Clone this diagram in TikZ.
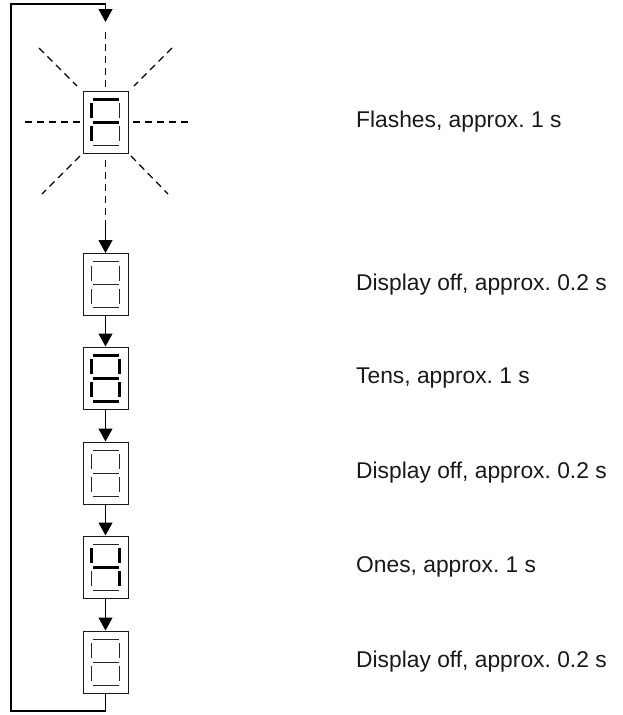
\documentclass[tikz,border=0pt]{standalone}
\usepackage{fontspec}
\setmainfont{Liberation Sans}
\usetikzlibrary{arrows.meta}
\frenchspacing
\tikzset{
  dispbox/.style={draw=black!90, line width=1pt, minimum width=45pt, minimum height=62pt, inner sep=0pt, fill=white},
  lab/.style={anchor=west, inner sep=0pt, font=\fontsize{22.8}{27}\selectfont, text=black!90},
  conn/.style={line width=1.2pt, -{Triangle[length=13pt,width=14pt]}},
  ray/.style={line width=1.2pt, dash pattern=on 7pt off 5pt},
  on/.style={line width=3pt, black},
  off/.style={line width=0.9pt, black!85},
}
\newcommand\sevseg[8]{%
  \begin{scope}[shift={(#1.center)}]
    \draw[#2] (-13,-23) -- (13,-23);
    \draw[#3] (14,-19) -- (14,-4);
    \draw[#4] (14,4) -- (14,19);
    \draw[#5] (-13,23) -- (13,23);
    \draw[#6] (-14,4) -- (-14,19);
    \draw[#7] (-14,-19) -- (-14,-4);
    \draw[#8] (-13,0) -- (13,0);
  \end{scope}}
\begin{document}
\begin{tikzpicture}[x=1pt, y=-1pt]
\useasboundingbox (0,0) rectangle (622,715);
% flash rays
\draw[ray] (25,122) -- (80,122);
\draw[ray] (133,122) -- (188,122);
\draw[ray] (39,48) -- (77,86);
\draw[ray] (172,48) -- (134,86);
\draw[ray] (80,156) -- (42,194);
\draw[ray] (131,156) -- (168,194);
% boxes
\node[dispbox] (b1) at (105.5,122) {};
\node[dispbox] (b2) at (105.5,284.5) {};
\node[dispbox] (b3) at (105.5,378) {};
\node[dispbox] (b4) at (105.5,473) {};
\node[dispbox] (b5) at (105.5,567) {};
\node[dispbox] (b6) at (105.5,662) {};
% segments: a b c d e f g
\sevseg{b1}{on}{off}{off}{off}{on}{on}{on}
\sevseg{b2}{off}{off}{off}{off}{off}{off}{off}
\sevseg{b3}{on}{on}{on}{on}{on}{on}{on}
\sevseg{b4}{off}{off}{off}{off}{off}{off}{off}
\sevseg{b5}{off}{on}{on}{off}{off}{on}{on}
\sevseg{b6}{off}{off}{off}{off}{off}{off}{off}
% connectors
\coordinate (top) at (105.5,22);
\coordinate (mid) at (105.5,222);
\draw[conn] (b6.south) |- (11,711) |- (105.5,4) -- (top);
\draw[ray] (top) ++(0,10) -- (b1.north);
\draw[ray] (b1.south) ++(0,6) -- (mid);
\draw[conn] (mid) -- (b2.north);
\draw[conn] (b2.south) -- (b3.north);
\draw[conn] (b3.south) -- (b4.north);
\draw[conn] (b4.south) -- (b5.north);
\draw[conn] (b5.south) -- (b6.north);
% labels
\node[lab] (l1) at (356,122) {Flashes, approx. 1 s};
\node[lab] (l2) at (356,285) {Display off, approx. 0.2 s};
\node[lab] (l3) at (356,378) {Tens, approx. 1 s};
\node[lab] (l4) at (356,473) {Display off, approx. 0.2 s};
\node[lab] (l5) at (356,567) {Ones, approx. 1 s};
\node[lab] (l6) at (356,662) {Display off, approx. 0.2 s};
\end{tikzpicture}
\end{document}
